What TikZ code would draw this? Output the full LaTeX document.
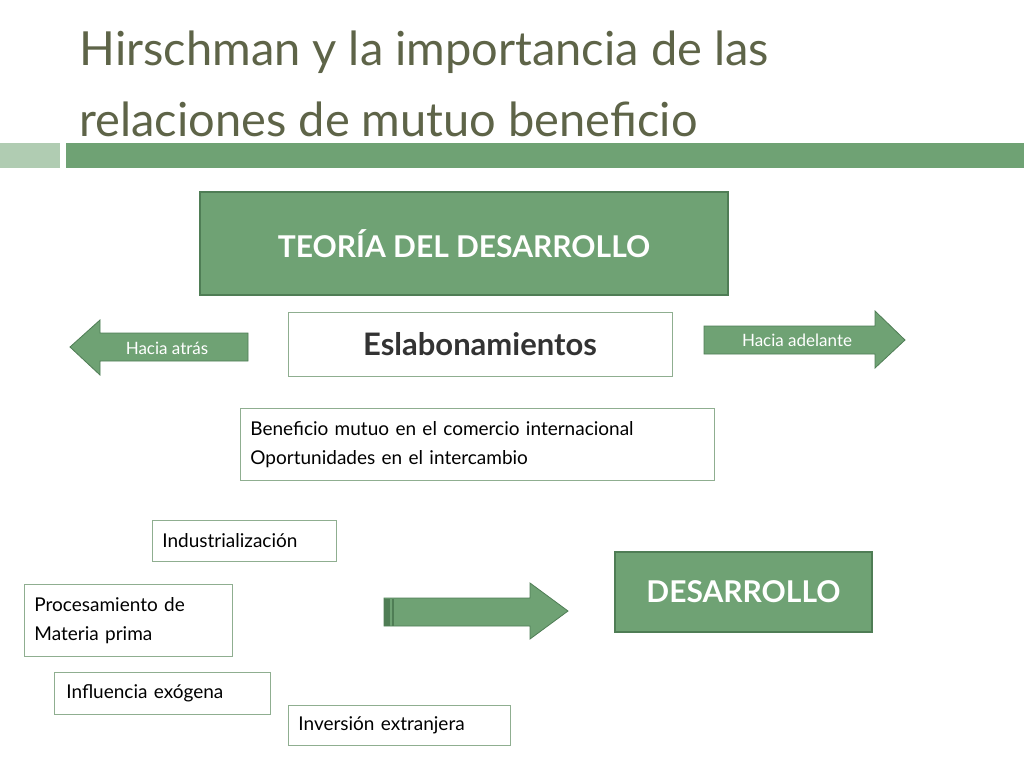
\documentclass[tikz,border=0pt]{standalone}
\usepackage{fontspec}
\setmainfont{Lato}
\begin{document}
\begin{tikzpicture}[x=1pt,y=-1pt,
  gbox/.style={fill=boxg, line width=1.2pt, text=white, font=\bfseries\fontsize{30}{34}\selectfont, inner sep=0},
  wbox/.style={draw=bordg, line width=0.8pt, fill=white, align=left, anchor=north west, inner ysep=0, inner xsep=10, font=\fontsize{19}{29}\selectfont},
  arr/.style={fill=boxg, draw=arrd, line width=0.8pt},
  lbl/.style={text=white, font=\fontsize{17}{19}\selectfont}]
\definecolor{boxg}{HTML}{6FA274}
\definecolor{arrd}{HTML}{4F7D55}
\definecolor{bordg}{HTML}{8FAE90}
\definecolor{titleg}{HTML}{5E6448}
\useasboundingbox (0,0) rectangle (1024,768);
\fill[white] (0,0) rectangle (1024,768);
\node[anchor=west, text=titleg, font=\fontsize{47}{50}\selectfont] (t1) at (76,52) {Hirschman y la importancia de las};
\node[anchor=west, text=titleg, font=\fontsize{47}{50}\selectfont] (t2) at (76,119) {relaciones de mutuo beneficio};
\fill[boxg!55!white] (0,143) rectangle (60,168);
\fill[boxg] (66,143) rectangle (1024,168);
\node[gbox, draw=arrd, minimum width=528, minimum height=103] (teo) at (464,243.5) {TEORÍA DEL DESARROLLO};
\node[draw=bordg, line width=1pt, minimum width=384, minimum height=64, text=black!80, font=\bfseries\fontsize{31}{34}\selectfont, inner sep=0] (esl) at (480,344) {Eslabonamientos};
\draw[arr] (248,333) -- (100,333) -- (100,320) -- (70,347) -- (100,375) -- (100,361) -- (248,361) -- cycle;
\node[lbl] (atras) at (167,348) {Hacia atrás};
\draw[arr] (704,326) -- (875,326) -- (875,311) -- (905,340) -- (875,368) -- (875,354) -- (704,354) -- cycle;
\node[lbl] (adel) at (797,340) {Hacia adelante};
\node[wbox, minimum height=72, text width=454] (ben) at (240,408) {Beneficio mutuo en el comercio internacional\\Oportunidades en el intercambio};
\node[wbox, minimum height=41, text width=164] (ind) at (152,520) {Industrialización};
\node[wbox, minimum height=72, text width=188] (pro) at (24,584) {Procesamiento de\\Materia prima};
\node[wbox, minimum height=42, text width=192, inner xsep=12] (inf) at (54,672) {Influencia exógena};
\node[wbox, minimum height=40, text width=202] (inv) at (288,705) {Inversión extranjera};
\draw[arr] (384,598) -- (530,598) -- (530,583) -- (568,611) -- (530,639) -- (530,626) -- (384,626) -- cycle;
\fill[arrd] (384,598.5) rectangle (390,625.5);
\fill[arrd] (392,598.5) rectangle (394,625.5);
\node[gbox, draw=arrd, minimum width=257, minimum height=80] (des) at (743.5,592) {DESARROLLO};
\end{tikzpicture}
\end{document}
